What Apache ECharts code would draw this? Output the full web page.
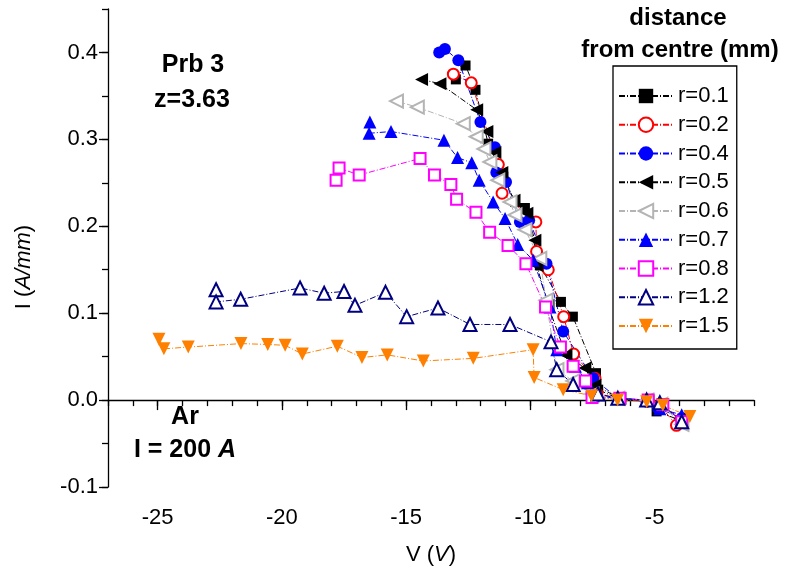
<!DOCTYPE html>
<html><head><meta charset="utf-8">
<script src="https://cdn.jsdelivr.net/npm/echarts@6/dist/echarts.min.js"></script>
<style>html,body{margin:0;padding:0;background:#fff}#c{width:787px;height:578px}</style>
</head><body><div id="c"></div>
<script>
// ---- data (V in volts, I in A/mm) ----
const seriesNames = ['r=0.1','r=0.2','r=0.4','r=0.5','r=0.6','r=0.7','r=0.8','r=1.2','r=1.5'];
const r01 = [[-13.00,0.369],[-12.61,0.385],[-12.21,0.357],[-11.70,0.295],[-11.09,0.257],[-10.62,0.228],[-10.22,0.221],[-9.62,0.155],[-8.77,0.113],[-8.29,0.096],[-7.36,0.031],[-7.27,0.012],[-6.48,0.002],[-5.32,-0.002],[-4.92,-0.013],[-3.98,-0.023]];
const r02 = [[-13.10,0.375],[-12.38,0.365],[-11.29,0.271],[-11.14,0.238],[-9.78,0.205],[-9.75,0.171],[-9.28,0.150],[-8.66,0.096],[-8.26,0.053],[-7.40,0.025],[-7.33,0.008],[-6.48,0.002],[-5.31,-0.001],[-4.79,-0.006],[-4.12,-0.029]];
const r04 = [[-13.67,0.400],[-13.44,0.404],[-12.90,0.391],[-12.01,0.320],[-11.43,0.291],[-11.37,0.262],[-10.98,0.251],[-10.42,0.205],[-10.05,0.207],[-9.35,0.157],[-8.68,0.079],[-7.47,0.025],[-6.48,0.002],[-5.32,-0.002],[-4.87,-0.009],[-3.91,-0.021]];
const r05 = [[-14.38,0.369],[-13.64,0.364],[-12.16,0.334],[-11.75,0.309],[-11.43,0.285],[-11.15,0.262],[-10.66,0.230],[-10.14,0.215],[-9.82,0.184],[-9.74,0.155],[-9.29,0.109],[-8.57,0.052],[-7.81,0.037],[-7.40,0.017],[-6.40,0.002],[-5.27,-0.001],[-4.71,-0.006],[-3.98,-0.021]];
const r06 = [[-15.39,0.344],[-14.55,0.337],[-12.70,0.318],[-12.18,0.303],[-11.87,0.289],[-11.63,0.274],[-11.31,0.253],[-10.82,0.228],[-10.62,0.213],[-10.22,0.196],[-9.62,0.163],[-9.37,0.115],[-8.93,0.035],[-8.29,0.022],[-7.52,0.007],[-6.48,0.002],[-5.31,0.000],[-4.75,-0.005],[-3.90,-0.028]];
const r07 = [[-16.46,0.320],[-16.49,0.307],[-15.61,0.309],[-13.48,0.299],[-12.93,0.279],[-12.36,0.273],[-12.06,0.253],[-11.50,0.228],[-11.02,0.209],[-10.51,0.179],[-9.89,0.161],[-9.21,0.107],[-8.94,0.058],[-8.19,0.039],[-7.70,0.020],[-7.47,0.005],[-6.46,0.002],[-5.26,0.000],[-4.79,-0.010],[-3.91,-0.017]];
const r08 = [[-17.82,0.253],[-17.70,0.267],[-16.89,0.259],[-14.44,0.278],[-13.86,0.259],[-13.20,0.248],[-12.97,0.231],[-12.19,0.216],[-11.64,0.193],[-10.90,0.178],[-10.18,0.157],[-9.39,0.107],[-8.79,0.061],[-8.28,0.039],[-7.78,0.022],[-7.52,0.003],[-6.40,0.002],[-5.26,0.000],[-4.67,-0.005],[-3.91,-0.025]];
const r12 = [[-22.65,0.127],[-22.65,0.113],[-21.66,0.116],[-19.27,0.129],[-18.30,0.123],[-17.50,0.125],[-17.06,0.109],[-15.83,0.124],[-14.98,0.096],[-13.72,0.106],[-12.43,0.087],[-10.82,0.087],[-9.17,0.067],[-8.94,0.035],[-8.28,0.018],[-7.28,0.007],[-6.48,0.002],[-5.32,0.000],[-4.79,-0.003],[-3.91,-0.025]];
const r15 = [[-24.95,0.070],[-24.75,0.059],[-23.77,0.061],[-21.65,0.065],[-20.57,0.064],[-19.87,0.063],[-19.18,0.053],[-17.77,0.062],[-16.78,0.049],[-15.76,0.052],[-14.31,0.045],[-12.30,0.048],[-9.89,0.058],[-9.85,0.026],[-8.68,0.012],[-7.54,0.005],[-6.49,0.000],[-5.32,-0.002],[-4.67,-0.006],[-3.58,-0.019]];
const xTicks = [-25,-20,-15,-10,-5];
const yTicks = [-0.1,0,0.1,0.2,0.3,0.4];

const FONT = '"Liberation Sans", Arial, sans-serif';
const dash = [6,2,1,2];
function mk(name, data, color, symbol, size, rot) {
  const empty = symbol.indexOf('empty') === 0;
  return {
    name, type: 'line', data, xAxisIndex: 0, yAxisIndex: 0,
    symbol, symbolSize: size, symbolRotate: rot,
    lineStyle: {color, width: 1, type: dash},
    itemStyle: {color, borderColor: color, borderWidth: empty ? 1.3 : 0, opacity: 1},
    emphasis: {disabled: true}, animation: false
  };
}
const series = [
  mk(seriesNames[0], r01, '#000000', 'rect', 10, 0),
  mk(seriesNames[1], r02, '#ff0000', 'emptyCircle', 11, 0),
  mk(seriesNames[2], r04, '#0000ff', 'circle', 12, 0),
  mk(seriesNames[3], r05, '#000000', 'triangle', 13, 90),
  mk(seriesNames[4], r06, '#b4b4b4', 'emptyTriangle', 13, 90),
  mk(seriesNames[5], r07, '#0000ff', 'triangle', 13, 0),
  mk(seriesNames[6], r08, '#ff00ff', 'emptyRect', 11, 0),
  mk(seriesNames[7], r12, '#000080', 'emptyTriangle', 13, 0),
  mk(seriesNames[8], r15, '#ff8000', 'triangle', 13, 180)
];

const axisLine = {show: true, lineStyle: {color: '#000', width: 1.3}};
const chart = echarts.init(document.getElementById('c'), null, {renderer: 'canvas'});
chart.setOption({
  backgroundColor: '#fff',
  animation: false,
  grid: {left: 108, right: 33, top: 9, bottom: 91, containLabel: false},
  xAxis: [{
    type: 'value', min: -27, max: -1, position: 'bottom',
    axisLine, splitLine: {show: false},
    axisTick: {show: true, length: 10, customValues: xTicks, lineStyle: {color: '#000', width: 1.3}},
    axisLabel: {customValues: xTicks, color: '#000', fontSize: 22, fontFamily: FONT, margin: 20},
    name: '{n|V (}{i|V}{n|)}', nameLocation: 'middle', nameGap: 57,
    nameTextStyle: {rich: {n: {fontSize: 22, fontFamily: FONT, color: '#000'}, i: {fontSize: 22, fontFamily: FONT, fontStyle: 'italic', color: '#000'}}}
  }, {
    type: 'value', min: -27, max: -1, interval: 1, position: 'bottom',
    axisLine: {show: false}, splitLine: {show: false}, axisLabel: {show: false},
    axisTick: {show: true, length: 6, lineStyle: {color: '#000', width: 1.3}}
  }],
  yAxis: [{
    type: 'value', min: -0.1, max: 0.45, position: 'left',
    axisLine, splitLine: {show: false},
    axisTick: {show: true, length: 9, customValues: yTicks, lineStyle: {color: '#000', width: 1.3}},
    axisLabel: {customValues: yTicks, color: '#000', fontSize: 22, fontFamily: FONT, margin: 10,
      formatter: v => v.toFixed(1)}
  }, {
    type: 'value', min: -0.1, max: 0.45, interval: 0.05, position: 'left',
    axisLine: {show: false}, splitLine: {show: false}, axisLabel: {show: false},
    axisTick: {show: true, length: 6, lineStyle: {color: '#000', width: 1.3}}
  }],
  legend: {
    data: seriesNames, orient: 'vertical', left: 613, top: 66,
    padding: [19, 8, 12, 5], itemWidth: 54, itemHeight: 18, itemGap: 6.75,
    borderColor: '#000', borderWidth: 1.3, backgroundColor: '#fff',
    textStyle: {fontSize: 22, fontFamily: FONT, color: '#000', lineHeight: 22},
    selectedMode: false
  },
  graphic: [
    {type: 'text', x: 24, y: 267, rotation: Math.PI / 2, style: {text: '{n|I (}{i|A/mm}{n|)}', align: 'center', verticalAlign: 'middle',
      rich: {n: {font: '22px "Liberation Sans", Arial', fill: '#000'}, i: {font: 'italic 22px "Liberation Sans", Arial', fill: '#000'}}}},
    {type: 'text', x: 193, y: 65, style: {text: 'Prb 3', font: 'bold 25px "Liberation Sans", Arial', fill: '#000', align: 'center', verticalAlign: 'middle'}},
    {type: 'text', x: 192, y: 100, style: {text: 'z=3.63', font: 'bold 25px "Liberation Sans", Arial', fill: '#000', align: 'center', verticalAlign: 'middle'}},
    {type: 'text', x: 185, y: 417, style: {text: 'Ar', font: 'bold 25px "Liberation Sans", Arial', fill: '#000', align: 'center', verticalAlign: 'middle'}},
    {type: 'text', x: 185, y: 450, style: {text: '{n|I = 200 }{i|A}', align: 'center', verticalAlign: 'middle',
      rich: {n: {font: 'bold 25px "Liberation Sans", Arial', fill: '#000'}, i: {font: 'italic bold 25px "Liberation Sans", Arial', fill: '#000'}}}},
    {type: 'text', x: 678, y: 18, style: {text: 'distance', font: 'bold 24px "Liberation Sans", Arial', fill: '#000', align: 'center', verticalAlign: 'middle'}},
    {type: 'text', x: 680, y: 50, style: {text: 'from centre (mm)', font: 'bold 24px "Liberation Sans", Arial', fill: '#000', align: 'center', verticalAlign: 'middle'}}
  ],
  series
});
</script></body></html>
